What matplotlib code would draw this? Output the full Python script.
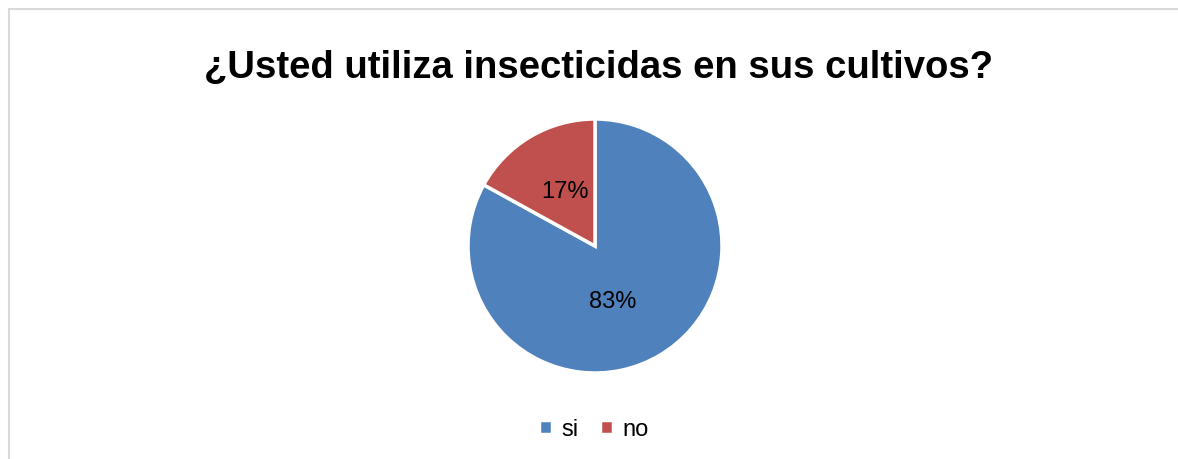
import matplotlib
matplotlib.use('Agg')
import matplotlib.pyplot as plt
from matplotlib.patches import Rectangle

# Datos del gráfico
categorias = ['si', 'no']
valores = [83, 17]
colores = ['#4F81BD', '#C0504D']
titulo = '¿Usted utiliza insecticidas en sus cultivos?'

fuente = ['Liberation Sans', 'DejaVu Sans']

fig = plt.figure(figsize=(11.78, 4.6), dpi=100)

# Marco del gráfico (solo borde superior e izquierdo visibles)
fig.patches.append(Rectangle((9 / 1178, -0.1), 1.2, (450 / 460) + 0.1,
                             transform=fig.transFigure, fill=False,
                             edgecolor='#D9D9D9', linewidth=1.5))

fig.text(599 / 1178, 1 - 68 / 460, titulo, ha='center', va='center',
         fontsize=27.5, fontweight='bold', family=fuente)

# Pastel: centro (595, 247), radio 127 px
ax = fig.add_axes([(595 - 127) / 1178, 1 - (247 + 127) / 460, 254 / 1178, 254 / 460])
cunas, textos, pcts = ax.pie(valores, colors=colores, startangle=90, counterclock=False,
                             autopct='%1.0f%%', pctdistance=0.5,
                             wedgeprops=dict(edgecolor='white', linewidth=2.5),
                             textprops=dict(fontsize=17, family=fuente))
ax.set_xlim(-1, 1)
ax.set_ylim(-1, 1)
ax.set_aspect('equal')
pcts[0].set_position((0.14, -0.43))
pcts[1].set_position((-0.24, 0.43))

fig.legend(cunas, categorias, loc='center', bbox_to_anchor=(594 / 1178, 1 - 430 / 460),
           ncol=2, frameon=False, handlelength=0.55, handleheight=0.55,
           handletextpad=0.4, columnspacing=0.9,
           prop=dict(size=17, family=fuente))

fig.savefig('out.png', dpi=100)
